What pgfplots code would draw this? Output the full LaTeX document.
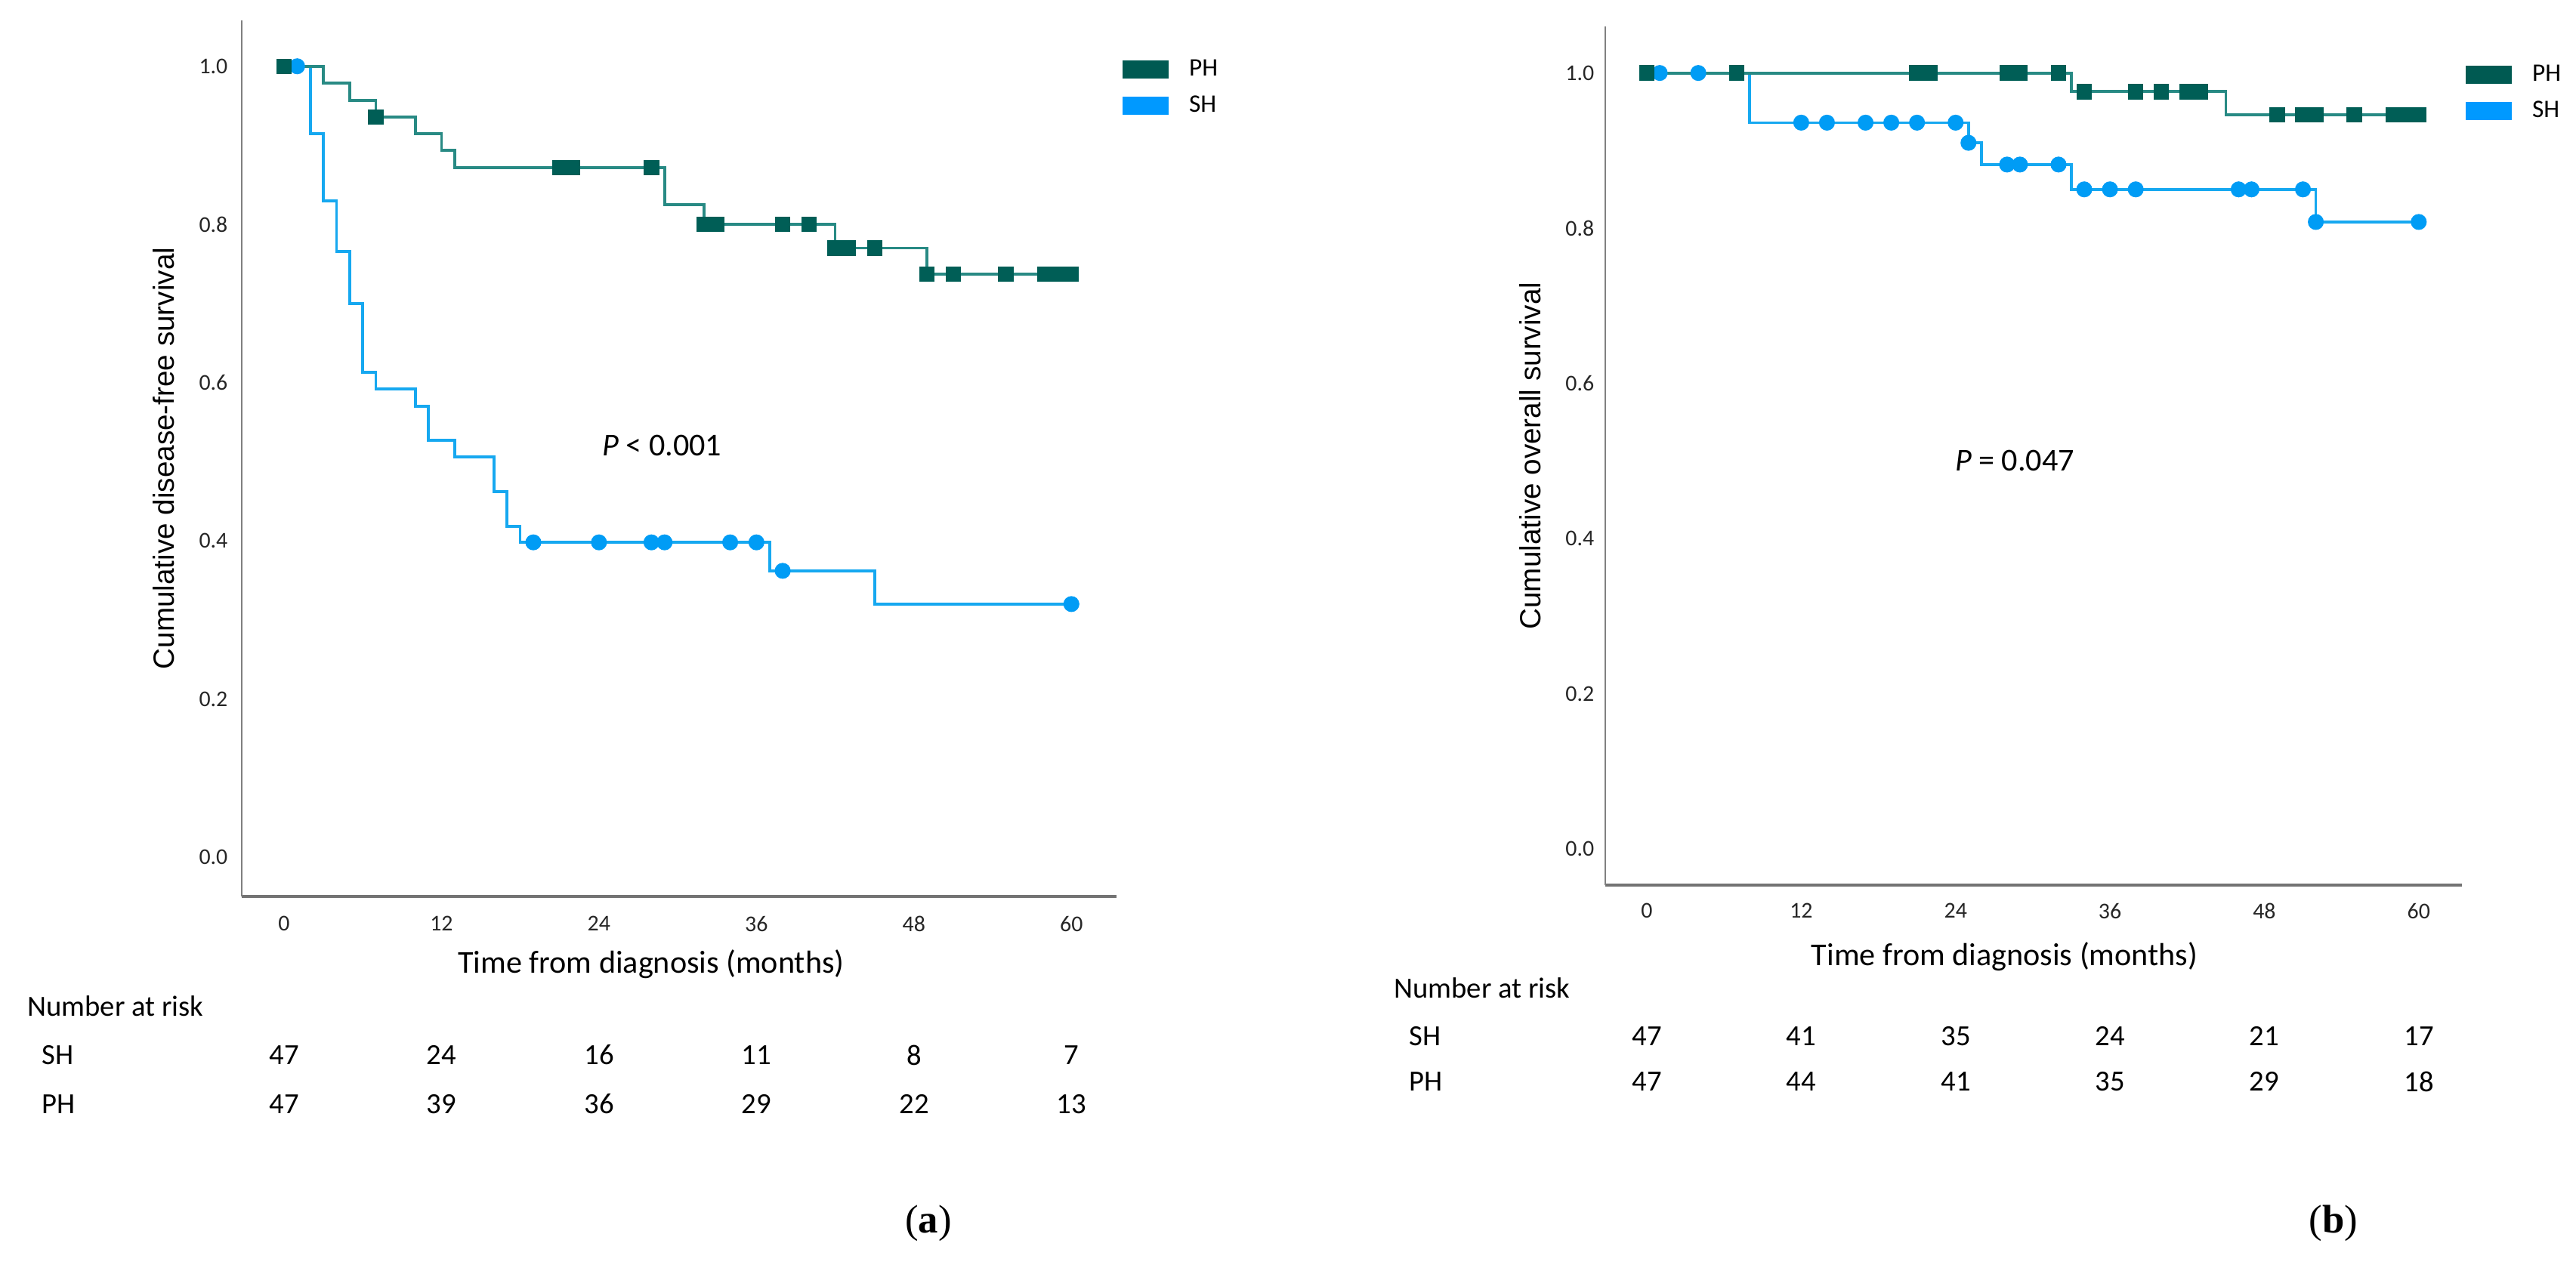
\documentclass[border=0pt]{standalone}
\usepackage{fontspec}
\setmainfont{Carlito}
\newfontfamily\arialfont{Liberation Sans}
\newfontfamily\capfont{Liberation Serif}
\usepackage{pgfplots}
\pgfplotsset{compat=1.18}

\definecolor{phline}{RGB}{40,138,132}
\definecolor{phmark}{RGB}{0,94,86}
\definecolor{phleg}{RGB}{0,90,82}
\definecolor{shline}{RGB}{22,168,240}
\definecolor{shmark}{RGB}{0,156,245}
\definecolor{shleg}{RGB}{0,153,255}

\pgfplotsset{
  kmaxis/.style={
    scale only axis, clip=false,
    axis x line*=bottom, axis y line*=left, axis line style={-},
    x axis line style={line width=1.1pt, draw=black!55},
    y axis line style={line width=0.6pt, draw=black!50},
    xtick={0,12,24,36,48,60}, xticklabels={0,12,24,36,48,60},
    ytick={0,0.2,0.4,0.6,0.8,1}, yticklabels={0.0,0.2,0.4,0.6,0.8,1.0},
    major tick length=0pt,
    tick label style={font=\fontsize{8.5}{10}\selectfont, text=black!85, inner sep=0pt},
    xlabel={Time from diagnosis (months)},
    xlabel style={font=\fontsize{12}{14}\selectfont, anchor=center},
    ylabel style={font=\arialfont\fontsize{11}{13}\selectfont, anchor=center},
    legend style={draw=none, fill=none, inner sep=0pt, anchor=north west,
      font=\fontsize{9.5}{11}\selectfont, row sep=6pt, column sep=0.27cm,
      nodes={inner sep=0pt}},
    legend cell align=left,
  },
  phl/.style={const plot, color=phline, line width=1.05pt, no marks},
  shl/.style={const plot, color=shline, line width=1.05pt, no marks},
  phm/.style={only marks, mark=square*, mark size=2.7pt, mark options={fill=phmark, draw=phmark}},
  shm/.style={only marks, mark=*, mark size=2.8pt, mark options={fill=shmark, draw=shmark}},
  phleg/.style={legend image code/.code={\fill[phleg] (0cm,-0.11cm) rectangle (0.6cm,0.11cm);}},
  shleg/.style={legend image code/.code={\fill[shleg] (0cm,-0.11cm) rectangle (0.6cm,0.11cm);}},
}

\begin{document}
\begin{tikzpicture}
\useasboundingbox (0,0) rectangle (34.10cm,-16.82cm);

% (a) disease-free survival
\begin{axis}[kmaxis,
  at={(3.20cm,-11.87cm)}, anchor=south west,
  width=11.58cm, height=11.60cm,
  xmin=-3.22, xmax=63.44, ymin=-0.0497, ymax=1.058,
  ylabel={Cumulative disease-free survival},
  ylabel style={at={(axis description cs:-0.089,0.5)}},
  xlabel style={at={(axis description cs:0.468,-0.0776)}},
  yticklabel style={xshift=-5.1pt},
  xticklabel style={yshift=-7.3pt},
  legend style={at={(axis description cs:1.006,0.956)}},
]
\addplot[shl, forget plot] coordinates {
  (0,1) (2,0.915) (3,0.830) (4,0.766) (5,0.700) (6,0.613) (7,0.592)
  (10,0.570) (11,0.527) (13,0.506) (16,0.462) (17,0.418) (18,0.398)
  (37,0.362) (45,0.320) (60,0.320)};
\addplot[phl, forget plot] coordinates {
  (0,1) (3,0.979) (5,0.957) (7,0.936) (10,0.915) (12,0.894) (13,0.872)
  (29,0.825) (32,0.800) (42,0.770) (49,0.737) (60,0.737)};
\addplot[shm, forget plot] coordinates {
  (1,1) (19,0.398) (24,0.398) (28,0.398) (29,0.398) (34,0.398) (36,0.398)
  (38,0.362) (60,0.320)};
\addplot[phm, forget plot] coordinates {
  (0,1) (7,0.936) (21,0.872) (22,0.872) (28,0.872) (32,0.800) (33,0.800)
  (38,0.800) (40,0.800) (42,0.770) (43,0.770) (45,0.770) (49,0.737)
  (51,0.737) (55,0.737) (58,0.737) (59,0.737) (60,0.737)};
\addlegendimage{phleg}
\addlegendentry{PH}
\addlegendimage{shleg}
\addlegendentry{SH}
\node[font=\fontsize{12}{14}\selectfont] at (axis cs:28.8,0.52) {\textit{P} < 0.001};
\end{axis}

% (b) overall survival
\begin{axis}[kmaxis,
  at={(21.25cm,-11.72cm)}, anchor=south west,
  width=11.34cm, height=11.37cm,
  xmin=-3.23, xmax=63.36, ymin=-0.0467, ymax=1.060,
  ylabel={Cumulative overall survival},
  ylabel style={at={(axis description cs:-0.088,0.5)}},
  xlabel style={at={(axis description cs:0.466,-0.0836)}},
  yticklabel style={xshift=-4pt},
  xticklabel style={yshift=-6.7pt},
  legend style={at={(axis description cs:1.0035,0.956)}},
]
\addplot[shl, forget plot] coordinates {
  (0,1) (8,0.936) (25,0.910) (26,0.882) (33,0.850) (52,0.808) (60,0.808)};
\addplot[phl, forget plot] coordinates {
  (0,1) (33,0.976) (45,0.946) (60,0.946)};
\addplot[shm, forget plot] coordinates {
  (1,1) (4,1) (12,0.936) (14,0.936) (17,0.936) (19,0.936) (21,0.936)
  (24,0.936) (25,0.910) (28,0.882) (29,0.882) (32,0.882) (34,0.850)
  (36,0.850) (38,0.850) (46,0.850) (47,0.850) (51,0.850) (52,0.808) (60,0.808)};
\addplot[phm, forget plot] coordinates {
  (0,1) (7,1) (21,1) (22,1) (28,1) (29,1) (32,1) (34,0.976) (38,0.976)
  (40,0.976) (42,0.976) (43,0.976) (49,0.946) (51,0.946) (52,0.946)
  (55,0.946) (58,0.946) (59,0.946) (60,0.946)};
\addlegendimage{phleg}
\addlegendentry{PH}
\addlegendimage{shleg}
\addlegendentry{SH}
\node[font=\fontsize{12}{14}\selectfont] at (axis cs:28.6,0.50) {\textit{P} = 0.047};
\end{axis}

% numbers at risk
\begin{scope}[every node/.style={font=\fontsize{11}{13}\selectfont}]
\node[anchor=west] at (0.24cm,-13.32cm) {Number at risk};
\node[anchor=west] at (0.43cm,-13.97cm) {SH};
\node[anchor=west] at (0.43cm,-14.62cm) {PH};
\foreach \x/\s/\p in {3.76/47/47, 5.84/24/39, 7.93/16/36, 10.01/11/29, 12.10/8/22, 14.18/7/13}{
  \node at (\x cm,-13.97cm) {\s};
  \node at (\x cm,-14.62cm) {\p};
}
\node[anchor=west] at (18.33cm,-13.08cm) {Number at risk};
\node[anchor=west] at (18.53cm,-13.72cm) {SH};
\node[anchor=west] at (18.53cm,-14.32cm) {PH};
\foreach \x/\s/\p in {21.80/47/47, 23.84/41/44, 25.89/35/41, 27.93/24/35, 29.97/21/29, 32.02/17/18}{
  \node at (\x cm,-13.72cm) {\s};
  \node at (\x cm,-14.32cm) {\p};
}
\end{scope}

\node[font=\capfont\fontsize{15}{18}\selectfont] at (12.29cm,-16.20cm) {(\textbf{a})};
\node[font=\capfont\fontsize{15}{18}\selectfont] at (30.89cm,-16.20cm) {(\textbf{b})};
\end{tikzpicture}
\end{document}
